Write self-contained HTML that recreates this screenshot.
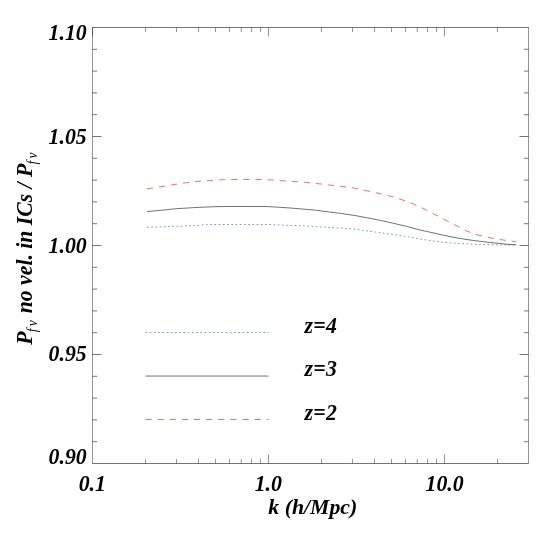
<!DOCTYPE html>
<html><head><meta charset="utf-8"><style>
html,body{margin:0;padding:0;background:#fff;}
svg{display:block;will-change:transform;}
</style></head><body>
<svg width="545" height="545" viewBox="0 0 545 545">
<rect width="545" height="545" fill="#fff"/>
<path d="M92.29 27.5 H528.71 M92.29 463.5 H528.71 M92.5 441.70 h4.6 M528.5 441.70 h-4.6 M92.5 419.90 h4.6 M528.5 419.90 h-4.6 M92.5 398.10 h4.6 M528.5 398.10 h-4.6 M92.5 376.30 h4.6 M528.5 376.30 h-4.6 M92.5 354.50 h9.0 M528.5 354.50 h-9.0 M92.5 332.70 h4.6 M528.5 332.70 h-4.6 M92.5 310.90 h4.6 M528.5 310.90 h-4.6 M92.5 289.10 h4.6 M528.5 289.10 h-4.6 M92.5 267.30 h4.6 M528.5 267.30 h-4.6 M92.5 245.50 h9.0 M528.5 245.50 h-9.0 M92.5 223.70 h4.6 M528.5 223.70 h-4.6 M92.5 201.90 h4.6 M528.5 201.90 h-4.6 M92.5 180.10 h4.6 M528.5 180.10 h-4.6 M92.5 158.30 h4.6 M528.5 158.30 h-4.6 M92.5 136.50 h9.0 M528.5 136.50 h-9.0 M92.5 114.70 h4.6 M528.5 114.70 h-4.6 M92.5 92.90 h4.6 M528.5 92.90 h-4.6 M92.5 71.10 h4.6 M528.5 71.10 h-4.6 M92.5 49.30 h4.6 M528.5 49.30 h-4.6" stroke="#000" stroke-width="0.54" fill="none"/>
<path d="M92.5 27.5 V463.5 M528.5 27.5 V463.5 M92.5 27.5 v9 M145.48 463.5 v-4.6 M145.48 27.5 v4.6 M176.48 463.5 v-4.6 M176.48 27.5 v4.6 M198.47 463.5 v-4.6 M198.47 27.5 v4.6 M215.53 463.5 v-4.6 M215.53 27.5 v4.6 M229.46 463.5 v-4.6 M229.46 27.5 v4.6 M241.25 463.5 v-4.6 M241.25 27.5 v4.6 M251.45 463.5 v-4.6 M251.45 27.5 v4.6 M260.46 463.5 v-4.6 M260.46 27.5 v4.6 M268.51 463.5 v-9.0 M268.51 27.5 v9.0 M321.50 463.5 v-4.6 M321.50 27.5 v4.6 M352.49 463.5 v-4.6 M352.49 27.5 v4.6 M374.48 463.5 v-4.6 M374.48 27.5 v4.6 M391.54 463.5 v-4.6 M391.54 27.5 v4.6 M405.47 463.5 v-4.6 M405.47 27.5 v4.6 M417.26 463.5 v-4.6 M417.26 27.5 v4.6 M427.46 463.5 v-4.6 M427.46 27.5 v4.6 M436.47 463.5 v-4.6 M436.47 27.5 v4.6 M444.52 463.5 v-9.0 M444.52 27.5 v9.0 M497.51 463.5 v-4.6 M497.51 27.5 v4.6" stroke="#000" stroke-width="0.42" fill="none"/>
<polyline points="147,227.4 160,226.9 170,226.5 185,226.0 198,225.4 204,224.7 215,224.5 266,224.5 277,224.9 290,225.4 302.8,225.8 315.7,226.6 328.5,227.4 341.4,228.2 354.2,229.1 367.8,231.0 380.7,232.7 393.5,234.6 406.4,236.5 419.6,238.9 431,240.7 442,242.2 453,243.1 464,243.7 475,244.3 490,244.7 516.3,245.1" fill="none" stroke="#0040ff" stroke-width="0.55" stroke-dasharray="1.7 2.52"/>
<polyline points="147,211.6 162,210.2 170,209.3 178,208.6 197.8,207.4 215,206.7 230,206.45 266,206.5 277,207.1 290,208.0 302.8,209.05 315.7,210.2 328.5,211.9 341.4,213.5 354.2,215.4 367.8,217.9 380.7,220.5 393.5,223.3 406.4,226.3 419.6,229.9 431,232.4 442,234.9 453,237.2 464,239.1 475,240.7 481.6,241.5 490,242.5 500,243.5 505,244.1 516.3,244.8" fill="none" stroke="#000" stroke-width="0.56"/>
<polyline points="147,188.9 155,187.6 162,186.5 170,185.2 178,183.9 185.9,182.8 197.8,181.4 209.7,180.5 222,179.8 234,179.5 263,179.5 277,180.3 290,181.4 302.8,182.1 315.7,183.4 328.5,184.9 341.4,186.3 354.2,188.1 367.8,191.0 380.7,193.8 393.5,197 406.4,201.2 413,203.8 424,208.9 435,214.6 446,220.3 456.5,225.7 467,231.2 477.5,234.9 490.5,237.85 502.5,239.9 514,241.5 516.3,241.8" fill="none" stroke="#ff0000" stroke-width="0.58" stroke-dasharray="6.2 5.92"/>
<line x1="145.48" x2="268.51" y1="332.5" y2="332.5" stroke="#0040ff" stroke-width="0.55" stroke-dasharray="1.7 2.52"/>
<line x1="145.48" x2="268.51" y1="376.05" y2="376.05" stroke="#000" stroke-width="0.56"/>
<line x1="145.48" x2="268.51" y1="419.5" y2="419.5" stroke="#ff0000" stroke-width="0.58" stroke-dasharray="6.2 5.92"/>
<g font-family="'Liberation Serif', serif" font-weight="bold" font-style="italic" font-size="21.8" fill="#000"><text transform="translate(304.4,332.6) scale(1,1.02)" text-anchor="start" letter-spacing="0.35">z=4</text><text transform="translate(304.4,376.1) scale(1,1.02)" text-anchor="start" letter-spacing="0.35">z=3</text><text transform="translate(304.4,419.6) scale(1,1.02)" text-anchor="start" letter-spacing="0.35">z=2</text><text transform="translate(86.7,40.3) scale(1,1.06)" text-anchor="end" >1.10</text><text transform="translate(86.7,144.2) scale(1,1.06)" text-anchor="end" >1.05</text><text transform="translate(86.7,253.3) scale(1,1.06)" text-anchor="end" >1.00</text><text transform="translate(86.7,361.4) scale(1,1.06)" text-anchor="end" >0.95</text><text transform="translate(86.7,463.6) scale(1,1.06)" text-anchor="end" >0.90</text><text transform="translate(92.3,490.5) scale(1,1.06)" text-anchor="middle" >0.1</text><text transform="translate(268.3,490.5) scale(1,1.06)" text-anchor="middle" >1.0</text><text transform="translate(444.6,490.5) scale(1,1.06)" text-anchor="middle" >10.0</text><text transform="translate(268.3,514.0) scale(1,1.0)" text-anchor="start" >k (h/Mpc)</text><text font-size="21.7" transform="translate(31.7,344.7) rotate(-90) scale(1,1.045)">P<tspan font-size="13.6" font-weight="normal" dy="4.9" dx="-0.8">f</tspan><tspan font-size="13.6" font-weight="normal" dx="2.3">v</tspan><tspan dy="-4.9" dx="1.5"> no vel. in ICs / P</tspan><tspan font-size="13.6" font-weight="normal" dy="4.9" dx="-0.8">f</tspan><tspan font-size="13.6" font-weight="normal" dx="2.3">v</tspan></text></g>
</svg>
</body></html>
